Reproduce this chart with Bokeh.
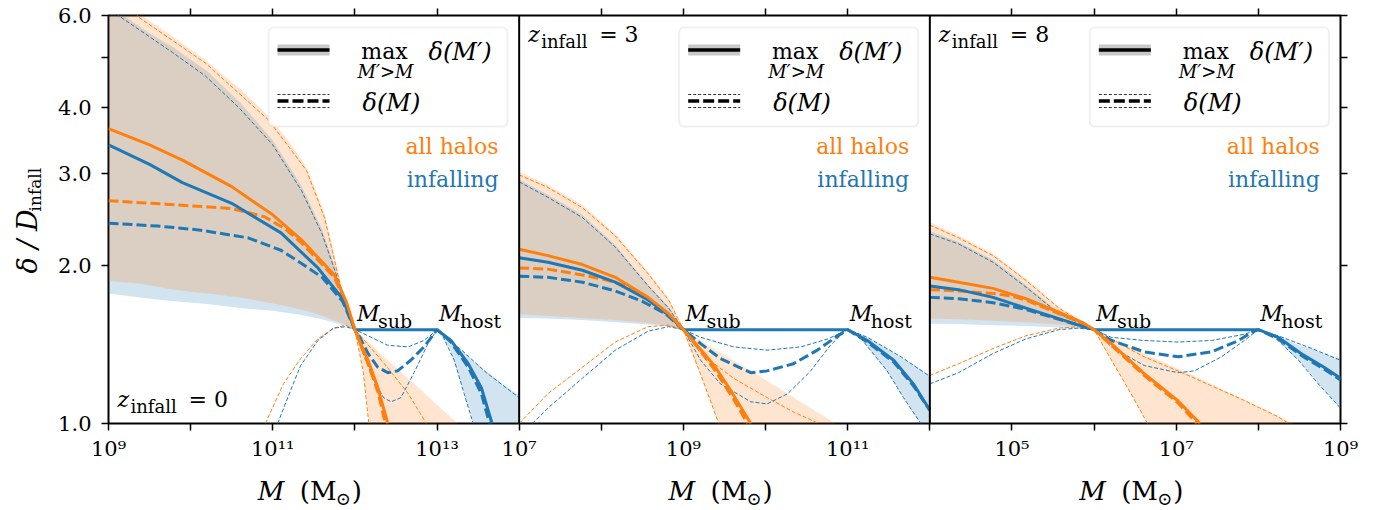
import math
from bokeh.plotting import figure
from bokeh.layouts import row, column
from bokeh.models import (Range1d, LogScale, LogAxis, FixedTicker, CustomJSTickFormatter,
                          Span, BoxAnnotation, Label)
from bokeh.embed import file_html
from bokeh.resources import INLINE

# ---------------- data (x values are log10 of M / Msun) ----------------
PANEL_XLIM = [(9, 14), (7, 12), (4, 9)]
X_LABELED_EXP = [[9, 11, 13], [7, 9, 11], [5, 7, 9]]
Z_INFALL = ["0", "3", "8"]
M_SUB = [12, 9, 6]
M_HOST = [13, 11, 8]
Y_LIM = (1.0, 6.0)
Y_TICKS = [1, 2, 3, 4, 5, 6]
Y_TICK_LABELS = ["1.0", "2.0", "3.0", "4.0", "", "6.0"]

# ---- panel 1 (z_infall = 0)
P1_OMAX_X = [9.0, 9.5, 9.9, 10.5, 11.0, 11.35, 11.75, 11.9, 12.0, 12.08, 12.16, 12.28, 12.4]
P1_OMAX_Y = [3.65, 3.40, 3.18, 2.83, 2.50, 2.24, 1.92, 1.70, 1.51, 1.41, 1.32, 1.17, 1.0]
P1_ODMED_X = [9.0, 9.7, 10.5, 10.9, 11.15, 11.35, 11.55, 11.75, 11.9, 12.0, 12.08, 12.16, 12.28, 12.37]
P1_ODMED_Y = [2.66, 2.62, 2.57, 2.48, 2.35, 2.21, 2.05, 1.90, 1.68, 1.51, 1.40, 1.30, 1.15, 1.0]
P1_BMAX_X = [9.0, 9.5, 9.9, 10.5, 11.1, 11.55, 11.85, 12.0, 13.0, 13.17, 13.38, 13.54, 13.67]
P1_BMAX_Y = [3.40, 3.12, 2.88, 2.63, 2.31, 1.98, 1.73, 1.51, 1.51, 1.44, 1.30, 1.17, 1.0]
P1_BDMED_X = [9.0, 9.6, 10.1, 10.7, 11.1, 11.35, 11.6, 11.85, 12.0, 12.04, 12.16, 12.28, 12.4,
              12.52, 12.68, 12.84, 12.96, 13.0, 13.17, 13.38, 13.54, 13.64]
P1_BDMED_Y = [2.41, 2.38, 2.34, 2.26, 2.14, 2.02, 1.90, 1.71, 1.51, 1.48, 1.36, 1.28, 1.25,
              1.26, 1.32, 1.40, 1.48, 1.51, 1.43, 1.28, 1.14, 1.0]
P1_OTHA_X = [9.0, 9.37, 10.18, 10.95, 11.41, 11.63, 11.85, 12.0, 12.1, 12.17]
P1_OTHA_Y = [7.0, 5.95, 4.87, 3.79, 3.04, 2.47, 1.76, 1.51, 1.26, 1.0]
P1_OTHB_X = [10.91, 11.13, 11.34, 11.55, 11.74, 11.89, 12.0, 12.15, 12.36, 12.65, 12.87]
P1_OTHB_Y = [1.0, 1.19, 1.33, 1.45, 1.52, 1.54, 1.51, 1.42, 1.30, 1.14, 1.0]
P1_BTHA_X = [9.0, 9.12, 9.78, 10.18, 10.59, 11.0, 11.35, 11.6, 11.8, 11.93, 12.0, 12.07, 12.23,
             12.35, 12.44, 12.56, 12.72, 12.89, 13.0, 13.05, 13.21, 13.33, 13.44]
P1_BTHA_Y = [6.3, 6.0, 5.1, 4.6, 4.0, 3.4, 2.78, 2.3, 1.87, 1.62, 1.51, 1.40, 1.21,
             1.12, 1.10, 1.12, 1.25, 1.42, 1.51, 1.49, 1.32, 1.14, 1.0]
P1_BTHB_X = [11.06, 11.22, 11.34, 11.55, 11.74, 11.89, 12.0, 12.16, 12.4, 12.65, 12.84, 12.96,
             13.0, 13.3, 13.6, 14.0]
P1_BTHB_Y = [1.0, 1.16, 1.29, 1.44, 1.52, 1.53, 1.51, 1.47, 1.41, 1.40, 1.44, 1.49,
             1.51, 1.38, 1.25, 1.12]
P1_OBAND_X = [9.0, 9.37, 9.8, 10.2, 10.6, 10.95, 11.2, 11.41, 11.63, 11.85, 12.0, 12.1, 12.18,
              12.4, 12.8, 13.25, 13.5]
P1_OBAND_HI = [7.2, 6.05, 5.45, 4.9, 4.35, 3.85, 3.45, 3.08, 2.52, 1.80, 1.51, 1.46, 1.42,
               1.32, 1.16, 1.0, 0.92]
P1_OBAND_LO = [1.87, 1.85, 1.80, 1.77, 1.74, 1.70, 1.67, 1.64, 1.60, 1.55, 1.51, 1.27, 1.0,
               0.9, 0.9, 0.9, 0.9]
P1_BBAND_X = [9.0, 9.12, 9.5, 9.8, 10.2, 10.6, 11.0, 11.35, 11.6, 11.8, 11.93, 12.0, 13.0,
              13.15, 13.3, 13.45, 13.6, 13.8, 14.0]
P1_BBAND_HI = [6.45, 6.1, 5.55, 5.2, 4.7, 4.1, 3.47, 2.84, 2.35, 1.90, 1.64, 1.51, 1.51,
               1.44, 1.38, 1.31, 1.26, 1.19, 1.13]
P1_BBAND_LO = [1.77, 1.76, 1.73, 1.71, 1.69, 1.66, 1.64, 1.61, 1.58, 1.55, 1.525, 1.51, 1.51,
               1.40, 1.19, 1.0, 0.9, 0.9, 0.9]

# ---- panel 2 (z_infall = 3)
P2_OMAX_X = [7.0, 7.35, 7.77, 8.17, 8.57, 8.82, 9.0, 9.2, 9.39, 9.6, 9.82]
P2_OMAX_Y = [2.15, 2.09, 2.01, 1.90, 1.74, 1.62, 1.51, 1.39, 1.28, 1.14, 1.0]
P2_ODMED_X = [7.0, 7.35, 7.77, 8.05, 8.3, 8.57, 8.82, 9.0, 9.2, 9.39, 9.6, 9.78]
P2_ODMED_Y = [1.98, 1.97, 1.92, 1.88, 1.83, 1.73, 1.61, 1.51, 1.38, 1.26, 1.12, 1.0]
P2_BMAX_X = [7.0, 7.35, 7.77, 8.17, 8.57, 8.82, 9.0, 11.0, 11.24, 11.56, 11.8, 12.0]
P2_BMAX_Y = [2.07, 2.03, 1.96, 1.86, 1.72, 1.61, 1.51, 1.51, 1.44, 1.32, 1.19, 1.06]
P2_BDMED_X = [7.0, 7.35, 7.77, 8.17, 8.5, 8.78, 9.0, 9.21, 9.45, 9.82, 10.02, 10.34, 10.63,
              10.88, 11.0, 11.24, 11.56, 11.8, 12.0]
P2_BDMED_Y = [1.91, 1.90, 1.86, 1.79, 1.71, 1.62, 1.51, 1.42, 1.33, 1.25, 1.26, 1.30, 1.38,
              1.47, 1.51, 1.43, 1.31, 1.18, 1.06]
P2_OTHA_X = [7.0, 7.35, 7.77, 8.17, 8.57, 8.82, 9.0, 9.21, 9.43]
P2_OTHA_Y = [2.98, 2.82, 2.58, 2.28, 1.93, 1.72, 1.51, 1.24, 1.0]
P2_OTHB_X = [7.0, 7.35, 7.77, 8.17, 8.57, 8.82, 9.0, 9.21, 9.61, 10.02, 10.35, 10.65]
P2_OTHB_Y = [1.0, 1.14, 1.28, 1.43, 1.53, 1.54, 1.51, 1.36, 1.22, 1.12, 1.05, 1.0]
P2_BTHA_X = [7.0, 7.35, 7.77, 8.17, 8.57, 8.82, 9.0, 9.21, 9.45, 9.82, 10.02, 10.27, 10.55,
             10.79, 10.95, 11.0, 11.15, 11.48, 11.68, 11.89]
P2_BTHA_Y = [2.89, 2.70, 2.47, 2.17, 1.83, 1.66, 1.51, 1.32, 1.19, 1.10, 1.09, 1.14, 1.26,
             1.41, 1.49, 1.51, 1.46, 1.26, 1.12, 1.0]
P2_BTHB_X = [7.16, 7.35, 7.77, 8.17, 8.57, 8.82, 9.0, 9.21, 9.61, 10.02, 10.43, 10.76, 10.92,
             11.0, 11.24, 11.65, 12.0]
P2_BTHB_Y = [1.0, 1.07, 1.22, 1.38, 1.50, 1.53, 1.51, 1.46, 1.40, 1.38, 1.40, 1.45, 1.49,
             1.51, 1.46, 1.34, 1.23]
P2_OBAND_X = [7.0, 7.35, 7.77, 8.17, 8.57, 8.82, 9.0, 9.21, 9.43, 9.93, 10.85, 11.2]
P2_OBAND_HI = [3.02, 2.85, 2.61, 2.30, 1.95, 1.73, 1.51, 1.44, 1.37, 1.23, 1.0, 0.9]
P2_OBAND_LO = [1.615, 1.605, 1.59, 1.575, 1.555, 1.535, 1.51, 1.24, 1.0, 0.9, 0.9, 0.85]
P2_BBAND_X = [7.0, 7.35, 7.77, 8.17, 8.57, 8.82, 9.0, 11.0, 11.15, 11.24, 11.48, 11.65, 11.68,
              11.89, 12.0]
P2_BBAND_HI = [2.92, 2.73, 2.50, 2.19, 1.84, 1.67, 1.51, 1.51, 1.485, 1.46, 1.39, 1.34, 1.33,
               1.27, 1.23]
P2_BBAND_LO = [1.59, 1.585, 1.575, 1.56, 1.545, 1.53, 1.51, 1.51, 1.46, 1.40, 1.26, 1.14, 1.12,
               1.0, 0.95]

# ---- panel 3 (z_infall = 8)
P3_OMAX_X = [4.0, 4.35, 4.77, 5.17, 5.57, 5.87, 6.0, 6.21, 6.61, 7.02, 7.29]
P3_OMAX_Y = [1.90, 1.86, 1.81, 1.73, 1.63, 1.555, 1.51, 1.42, 1.245, 1.105, 1.0]
P3_ODMED_X = [4.0, 4.35, 4.77, 5.0, 5.17, 5.57, 5.87, 6.0, 6.21, 6.61, 7.02, 7.25]
P3_ODMED_Y = [1.80, 1.79, 1.77, 1.75, 1.72, 1.62, 1.55, 1.51, 1.41, 1.235, 1.095, 1.0]
P3_BMAX_X = [4.0, 4.35, 4.77, 5.17, 5.57, 5.87, 6.0, 8.0, 8.24, 8.55, 8.8, 9.0]
P3_BMAX_Y = [1.83, 1.80, 1.74, 1.66, 1.585, 1.53, 1.51, 1.51, 1.46, 1.35, 1.28, 1.22]
P3_BDMED_X = [4.0, 4.35, 4.77, 5.17, 5.57, 5.87, 6.0, 6.21, 6.61, 7.02, 7.43, 7.76, 7.91, 8.0,
              8.24, 8.55, 8.8, 9.0]
P3_BDMED_Y = [1.74, 1.73, 1.70, 1.65, 1.58, 1.53, 1.51, 1.44, 1.37, 1.34, 1.37, 1.44, 1.49, 1.51,
              1.45, 1.34, 1.27, 1.21]
P3_OTHA_X = [4.0, 4.35, 4.77, 5.17, 5.57, 5.82, 6.0, 6.2, 6.45, 6.65]
P3_OTHA_Y = [2.39, 2.26, 2.09, 1.875, 1.66, 1.57, 1.51, 1.33, 1.14, 1.0]
P3_OTHB_X = [4.0, 4.35, 4.77, 5.17, 5.57, 5.8, 6.0, 6.61, 7.02, 7.43, 7.83, 8.24, 8.37]
P3_OTHB_Y = [1.235, 1.30, 1.39, 1.47, 1.52, 1.53, 1.51, 1.34, 1.26, 1.18, 1.106, 1.03, 1.0]
P3_BTHA_X = [4.0, 4.35, 4.77, 5.17, 5.57, 6.0, 6.21, 6.61, 7.02, 7.22, 7.55, 7.83, 7.95, 8.0,
             8.16, 8.49, 8.73, 9.0]
P3_BTHA_Y = [2.30, 2.20, 2.03, 1.82, 1.62, 1.51, 1.40, 1.29, 1.25, 1.26, 1.34, 1.44, 1.49, 1.51,
             1.48, 1.32, 1.19, 1.07]
P3_BTHB_X = [4.0, 4.35, 4.77, 5.17, 5.57, 5.8, 6.0, 6.21, 6.61, 7.02, 7.43, 7.83, 8.0, 8.24,
             8.65, 9.0]
P3_BTHB_Y = [1.19, 1.25, 1.36, 1.45, 1.51, 1.52, 1.51, 1.46, 1.44, 1.43, 1.44, 1.48, 1.51, 1.47,
             1.39, 1.32]
P3_OBAND_X = [4.0, 4.35, 4.77, 5.17, 5.57, 5.82, 6.0, 6.2, 6.45, 6.65, 7.21, 8.43, 8.7]
P3_OBAND_HI = [2.42, 2.28, 2.11, 1.89, 1.67, 1.58, 1.51, 1.46, 1.40, 1.35, 1.235, 1.0, 0.95]
P3_OBAND_LO = [1.585, 1.58, 1.57, 1.56, 1.545, 1.53, 1.51, 1.33, 1.14, 1.0, 0.9, 0.9, 0.9]
P3_BBAND_X = [4.0, 4.35, 4.77, 5.17, 5.57, 6.0, 8.0, 8.16, 8.24, 8.49, 8.65, 8.73, 9.0]
P3_BBAND_HI = [2.33, 2.22, 2.05, 1.84, 1.63, 1.51, 1.51, 1.49, 1.47, 1.41, 1.39, 1.37, 1.33]
P3_BBAND_LO = [1.55, 1.548, 1.54, 1.535, 1.525, 1.51, 1.51, 1.48, 1.44, 1.32, 1.24, 1.19, 1.07]

PANELS = [
    dict(omax=(P1_OMAX_X, P1_OMAX_Y), odmed=(P1_ODMED_X, P1_ODMED_Y),
         bmax=(P1_BMAX_X, P1_BMAX_Y), bdmed=(P1_BDMED_X, P1_BDMED_Y),
         otha=(P1_OTHA_X, P1_OTHA_Y), othb=(P1_OTHB_X, P1_OTHB_Y),
         btha=(P1_BTHA_X, P1_BTHA_Y), bthb=(P1_BTHB_X, P1_BTHB_Y),
         oband=(P1_OBAND_X, P1_OBAND_LO, P1_OBAND_HI), bband=(P1_BBAND_X, P1_BBAND_LO, P1_BBAND_HI)),
    dict(omax=(P2_OMAX_X, P2_OMAX_Y), odmed=(P2_ODMED_X, P2_ODMED_Y),
         bmax=(P2_BMAX_X, P2_BMAX_Y), bdmed=(P2_BDMED_X, P2_BDMED_Y),
         otha=(P2_OTHA_X, P2_OTHA_Y), othb=(P2_OTHB_X, P2_OTHB_Y),
         btha=(P2_BTHA_X, P2_BTHA_Y), bthb=(P2_BTHB_X, P2_BTHB_Y),
         oband=(P2_OBAND_X, P2_OBAND_LO, P2_OBAND_HI), bband=(P2_BBAND_X, P2_BBAND_LO, P2_BBAND_HI)),
    dict(omax=(P3_OMAX_X, P3_OMAX_Y), odmed=(P3_ODMED_X, P3_ODMED_Y),
         bmax=(P3_BMAX_X, P3_BMAX_Y), bdmed=(P3_BDMED_X, P3_BDMED_Y),
         otha=(P3_OTHA_X, P3_OTHA_Y), othb=(P3_OTHB_X, P3_OTHB_Y),
         btha=(P3_BTHA_X, P3_BTHA_Y), bthb=(P3_BTHB_X, P3_BTHB_Y),
         oband=(P3_OBAND_X, P3_OBAND_LO, P3_OBAND_HI), bband=(P3_BBAND_X, P3_BBAND_LO, P3_BBAND_HI)),
]

# ---------------- styling / layout ----------------
ORANGE, BLUE = "#ff7f0e", "#1f77b4"
FONT = "DejaVu Serif"
W, H = 1373, 510
FL, FR, FT, FB = 108, 1340, 15, 423          # frame edges in page px
SW, SH = 50, 40                              # left / bottom label strips
MID = 0.35                                   # baseline -> middle offset (fraction of font size)
NPANEL = len(PANEL_XLIM)
NDEC_PANEL = PANEL_XLIM[0][1] - PANEL_XLIM[0][0]
NDEC = NDEC_PANEL * NPANEL
DEC_PX = (FR - FL) / NDEC
PANEL_W = (FR - FL) / NPANEL
X0 = PANEL_XLIM[0][0]

p = figure(width=W - SW, height=H - SH, output_backend="svg", toolbar_location=None,
           x_axis_type="log", y_axis_type="log",
           x_range=Range1d(10.0 ** X0, 10.0 ** (X0 + NDEC)),
           y_range=Range1d(Y_LIM[0], Y_LIM[1]),
           min_border_left=FL - SW, min_border_right=W - FR,
           min_border_top=FT, min_border_bottom=H - SH - FB)
p.grid.visible = False
p.outline_line_color = "black"
p.outline_line_width = 2
p.background_fill_color = "white"
p.border_fill_color = "white"

names = ["default"] + [f"panel{k}" for k in range(1, NPANEL)]
xr, xs = {}, {}
for k in range(1, NPANEL):
    lo = PANEL_XLIM[k][0] - NDEC_PANEL * k
    xr[names[k]] = Range1d(10.0 ** lo, 10.0 ** (lo + NDEC))
    xs[names[k]] = LogScale()
p.extra_x_ranges = xr
p.extra_x_scales = xs


def style_axis(ax):
    ax.axis_line_color = None
    ax.major_tick_out = 7
    ax.major_tick_in = 0
    ax.minor_tick_out = 0
    ax.minor_tick_in = 0
    ax.major_tick_line_color = "black"
    ax.major_tick_line_width = 1.5
    ax.major_label_text_font = FONT
    ax.major_label_text_font_size = "21px"
    ax.major_label_text_color = "black"


xa = p.xaxis[0]
xa.ticker = FixedTicker(ticks=[10.0 ** e for e in range(X0, X0 + NDEC + 1)], minor_ticks=[])
xa.formatter = CustomJSTickFormatter(
    args=dict(xzero=X0, ndp=NDEC_PANEL, lows=[a for a, b in PANEL_XLIM], labeled=X_LABELED_EXP),
    code="""
const sup = ["\u2070","\u00b9","\u00b2","\u00b3","\u2074","\u2075","\u2076","\u2077","\u2078","\u2079"];
const e = Math.round(Math.log10(tick));
const k = Math.min(Math.floor((e - xzero) / ndp), lows.length - 1);
const loc = e - xzero - ndp * k + lows[k];
if (!labeled[k].includes(loc)) return "";
return "10" + String(loc).split("").map(c => sup[+c]).join("");
""")
style_axis(xa)
xa.major_label_standoff = 6

ya = p.yaxis[0]
ya.ticker = FixedTicker(ticks=Y_TICKS, minor_ticks=[])
ya.formatter = CustomJSTickFormatter(
    args=dict(tvals=Y_TICKS, tlabels=Y_TICK_LABELS),
    code="const i = tvals.findIndex(t => Math.abs(t - tick) < 1e-6); return i >= 0 ? tlabels[i] : '';")
style_axis(ya)
ya.major_label_standoff = 10

top = LogAxis(ticker=FixedTicker(ticks=[10.0 ** e for e in range(X0 + 1, X0 + NDEC)
                                        if (e - X0) % NDEC_PANEL != 0], minor_ticks=[]),
              formatter=CustomJSTickFormatter(code="return '';"))
style_axis(top)
p.add_layout(top, "above")
right = LogAxis(ticker=FixedTicker(ticks=Y_TICKS, minor_ticks=[]),
                formatter=CustomJSTickFormatter(code="return '';"))
style_axis(right)
p.add_layout(right, "right")

for k in range(1, NPANEL):
    p.add_layout(Span(location=10.0 ** (X0 + NDEC_PANEL * k), dimension="height",
                      line_color="black", line_width=2))

# ---------------- data glyphs ----------------
def ex(v):
    return [10.0 ** t for t in v]


for k, d in enumerate(PANELS):
    rn = names[k]
    for key, col in (("bband", BLUE), ("oband", ORANGE)):
        x, lo, hi = d[key]
        p.varea(x=ex(x), y1=lo, y2=hi, fill_color=col, fill_alpha=0.2, x_range_name=rn)
    for key, col in (("otha", ORANGE), ("othb", ORANGE), ("btha", BLUE), ("bthb", BLUE)):
        x, y = d[key]
        p.line(ex(x), y, line_color=col, line_width=1, line_dash="4 2", x_range_name=rn)
    for key, col in (("bdmed", BLUE), ("odmed", ORANGE)):
        x, y = d[key]
        p.line(ex(x), y, line_color=col, line_width=3, line_dash="10 4", x_range_name=rn)
    for key, col in (("bmax", BLUE), ("omax", ORANGE)):
        x, y = d[key]
        p.line(ex(x), y, line_color=col, line_width=3, x_range_name=rn)

# ---------------- annotations (positions = page px of the text baseline) ----------------
LY = math.log10(Y_LIM[1] / Y_LIM[0])


def X(px):
    return 10.0 ** (X0 + (px - FL) / DEC_PX)


def Y(py):
    return Y_LIM[0] * 10.0 ** (LY * (FB - py) / (FB - FT))


def mklabel(x, y, s, size, color="black", italic=False, align="left", angle=0.0):
    return Label(x=x, y=y, text=s, text_font=FONT, text_font_size=f"{size}px",
                 text_font_style="italic" if italic else "normal", text_color=color,
                 text_align=align, text_baseline="middle", angle=angle)


def txt(px, py, s, size, **kw):
    p.add_layout(mklabel(X(px), Y(py - MID * size), s, size, **kw))


for k in range(NPANEL):
    ox = PANEL_W * k
    # legend box
    box = BoxAnnotation(left=X(268 + ox), right=X(507 + ox), top=Y(27), bottom=Y(126),
                        fill_color="white", fill_alpha=0.85, line_color="#cccccc", line_width=2)
    try:
        box.border_radius = 5
    except Exception:
        pass
    p.add_layout(box)
    # legend samples
    xs_ = [X(277 + ox), X(329 + ox)]
    p.line(xs_, [Y(49.5)] * 2, line_color="#c8c8c8", line_width=11, level="overlay")
    p.line(xs_, [Y(49.5)] * 2, line_color="black", line_width=3.5, level="overlay")
    p.line(xs_, [Y(100.5)] * 2, line_color="black", line_width=3.5, line_dash="11 4", level="overlay")
    p.line(xs_, [Y(94)] * 2, line_color="black", line_width=0.8, line_dash="3 2", level="overlay")
    p.line(xs_, [Y(107)] * 2, line_color="black", line_width=0.8, line_dash="3 2", level="overlay")
    # legend texts
    txt(384 + ox, 59, "max", 22, align="center")
    txt(385 + ox, 77, "M\u2032>M", 18, italic=True, align="center")
    txt(428 + ox, 60, "\u03b4(M\u2032)", 24, italic=True)
    txt(362 + ox, 111, "\u03b4(M)", 24, italic=True)
    # group labels
    txt(498 + ox, 154, "all halos", 22, color=ORANGE, align="right")
    txt(498 + ox, 187, "infalling", 22, color=BLUE, align="right")
    # z_infall label
    zy = 407 if k == 0 else 42
    txt(117 + ox, zy, "z", 22, italic=True)
    txt(130 + ox, zy + 5, "infall", 18)
    txt(188 + ox, zy, "= " + Z_INFALL[k], 22)
    # M_sub / M_host labels
    for m, sub in ((M_SUB[k], "sub"), (M_HOST[k], "host")):
        tx = FL + ox + (m - PANEL_XLIM[k][0]) * DEC_PX
        txt(tx + 2, 321, "M", 22, italic=True)
        txt(tx + 23, 327, sub, 19)

# ---------------- label strips (outside the frame) ----------------
def strip(w, h, x0, x1, y0, y1):
    s = figure(width=w, height=h, output_backend="svg", toolbar_location=None,
               x_range=Range1d(x0, x1), y_range=Range1d(y0, y1),
               x_axis_location=None, y_axis_location=None,
               min_border_left=0, min_border_right=0, min_border_top=0, min_border_bottom=0)
    s.grid.visible = False
    s.outline_line_color = None
    s.background_fill_color = "white"
    s.border_fill_color = "white"
    return s


# left strip: page x in [0, SW], y measured upward as H - py (rotated text: baseline is on the right)
ys = strip(SW, H, 0, SW, 0, H)
ys.add_layout(mklabel(36 - MID * 27, H - 273, "\u03b4 / D", 27, italic=True, angle=math.pi / 2))
ys.add_layout(mklabel(40 - MID * 17, H - 211, "infall", 17, angle=math.pi / 2))

# bottom strip: its frame is aligned with the main frame (page x FL..FR); y upward as H - py
xsb = strip(W - SW, SH, FL, FR, 0, SH)
for k in range(NPANEL):
    cx = FL + PANEL_W * k + PANEL_W / 2
    xsb.add_layout(mklabel(cx - 56, H - (500 - MID * 26), "M", 26, italic=True))
    xsb.add_layout(mklabel(cx - 14, H - (500 - MID * 26), "(M", 26))
    xsb.add_layout(mklabel(cx + 22, H - (504 - MID * 18), "\u2299", 18))
    xsb.add_layout(mklabel(cx + 38, H - (500 - MID * 26), ")", 26))

layout = row(ys, column(p, xsb))
open("out.html", "w").write(file_html(layout, INLINE))
